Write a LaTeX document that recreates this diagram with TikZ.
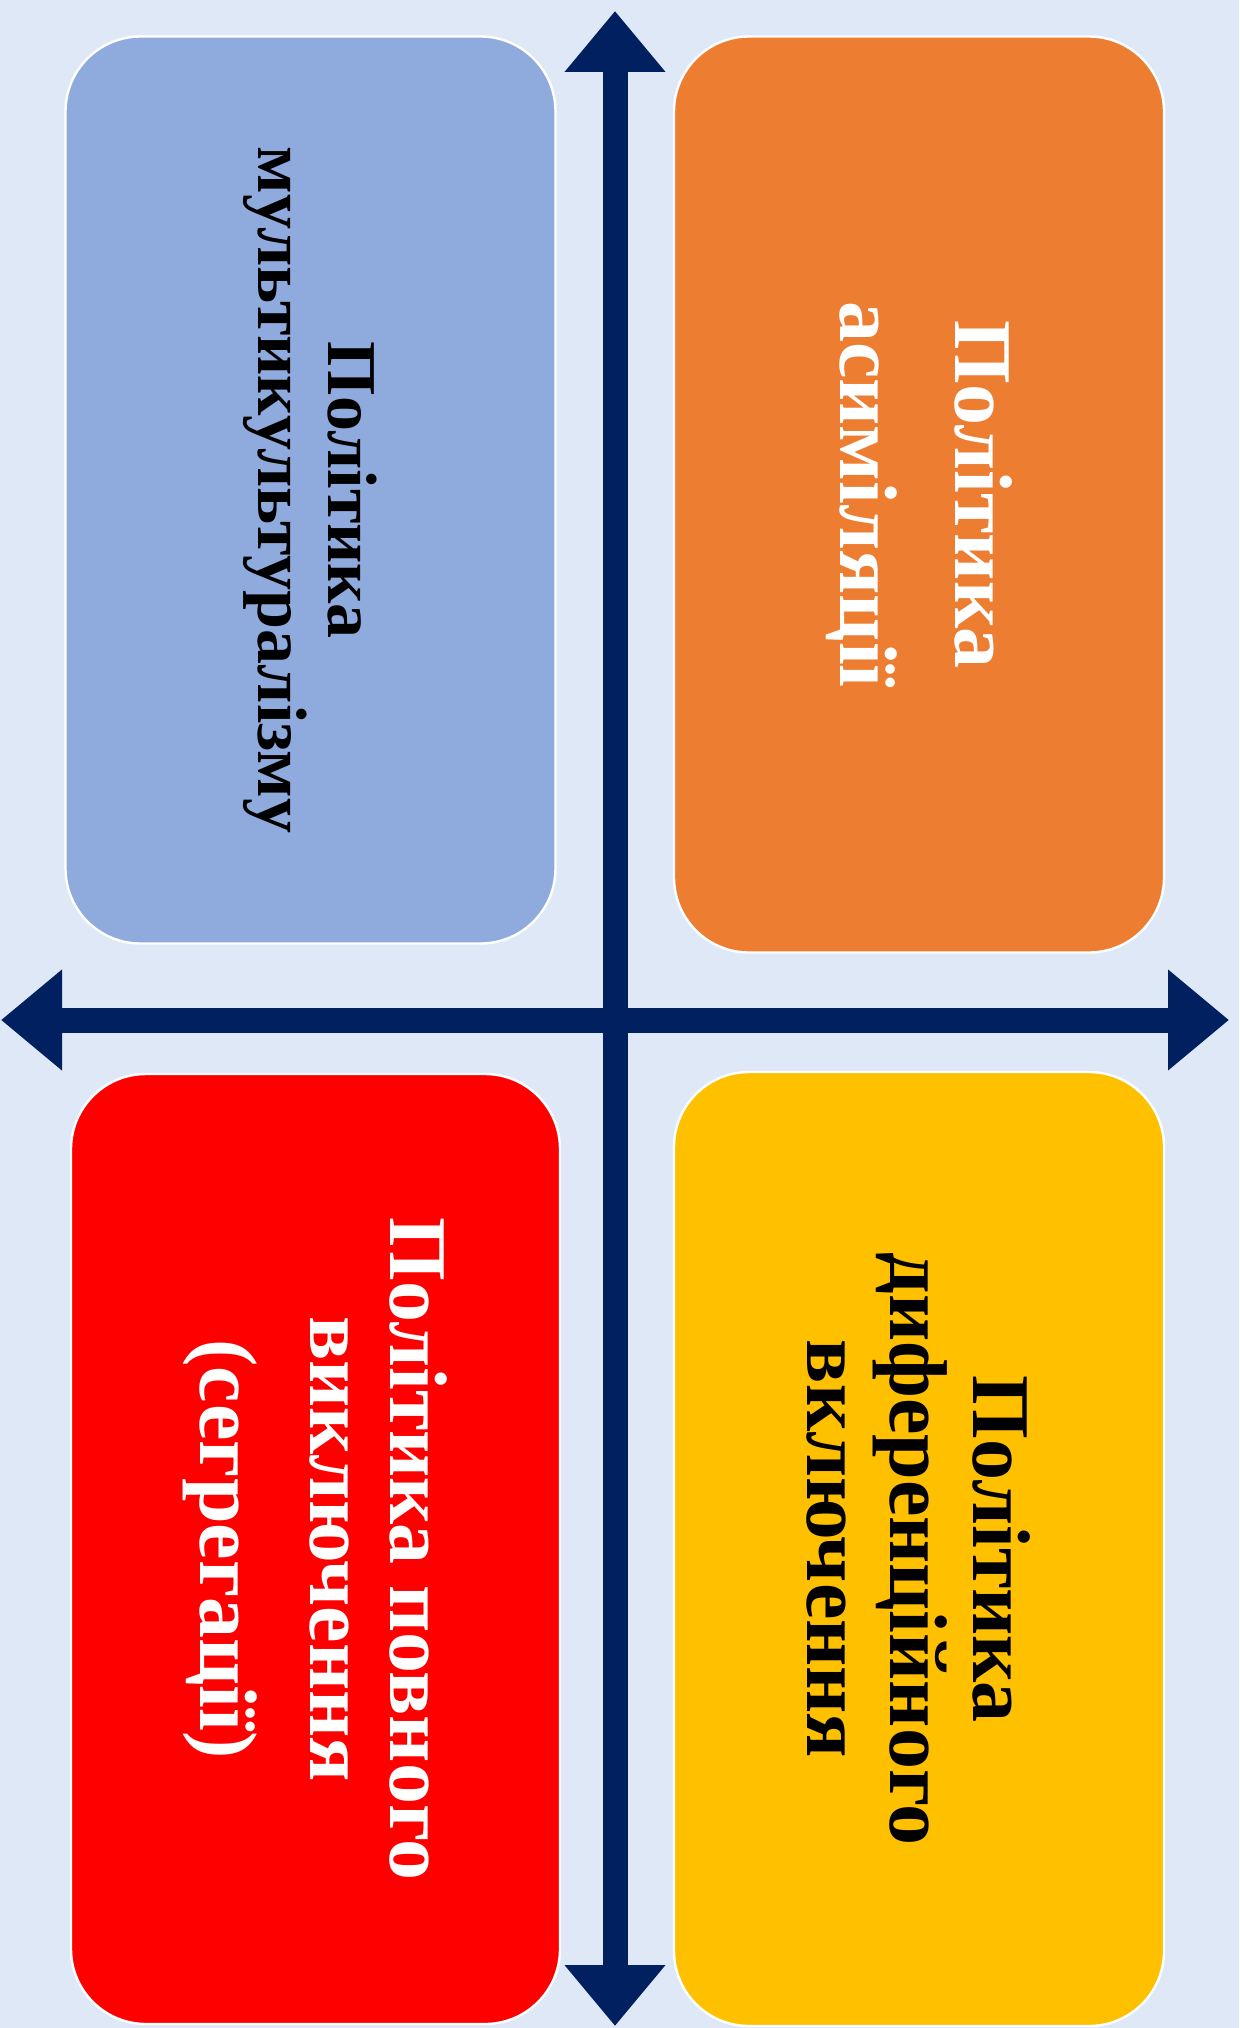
\documentclass[tikz,border=0pt]{standalone}
\usepackage{fontspec}
\setmainfont{Liberation Serif}
\usetikzlibrary{arrows.meta}
\definecolor{bg}{RGB}{222,232,246}
\definecolor{navy}{RGB}{0,32,96}
\definecolor{boxblue}{RGB}{143,170,220}
\definecolor{boxorange}{RGB}{237,125,49}
\definecolor{boxred}{RGB}{255,0,0}
\definecolor{boxyellow}{RGB}{255,192,0}
\begin{document}
\begin{tikzpicture}[x=0.5pt, y=-0.5pt,
  box/.style = {draw=white, line width=1.2pt, rounded corners=37.5pt, rotate=-90, align=center, minimum height=245pt},
  big/.style = {font=\fontsize{41}{41.5}\selectfont\bfseries},
  axis/.style = {navy, line width=12.5pt, {Triangle[length=30.5pt,width=48.5pt]}-{Triangle[length=30.5pt,width=48.5pt]}}]
\useasboundingbox (0,0) rectangle (1239,2028);
\fill[bg] (0,0) rectangle (1239,2028);
\node[box, fill=boxblue, minimum width=453.5pt, font=\fontsize{35}{35}\selectfont\bfseries] (1) at (310.5,490) {Політика\\мультикультуралізму};
\node[box, big, fill=boxorange, text=white, minimum width=458pt, font=\fontsize{41}{57.5}\selectfont\bfseries] (2) at (919,494.5) {Політика\\асиміляції};
\node[box, big, fill=boxred, text=white, minimum width=475pt, minimum height=244.5pt, font=\fontsize{41}{40}\selectfont\bfseries] (3) at (315.5,1549) {Політика повного\\виключення\\[15pt](сегрегації)};
\node[box, big, fill=boxyellow, minimum width=477pt] (4) at (919,1549) {Політика\\диференційного\\включення};
\coordinate (t) at (615,11);
\coordinate (b) at (615,2026);
\coordinate (l) at (1,1020);
\coordinate (r) at (1229,1020);
\draw[axis] (l) -- (r);
\draw[axis] (b) -- (t);
\end{tikzpicture}
\end{document}
